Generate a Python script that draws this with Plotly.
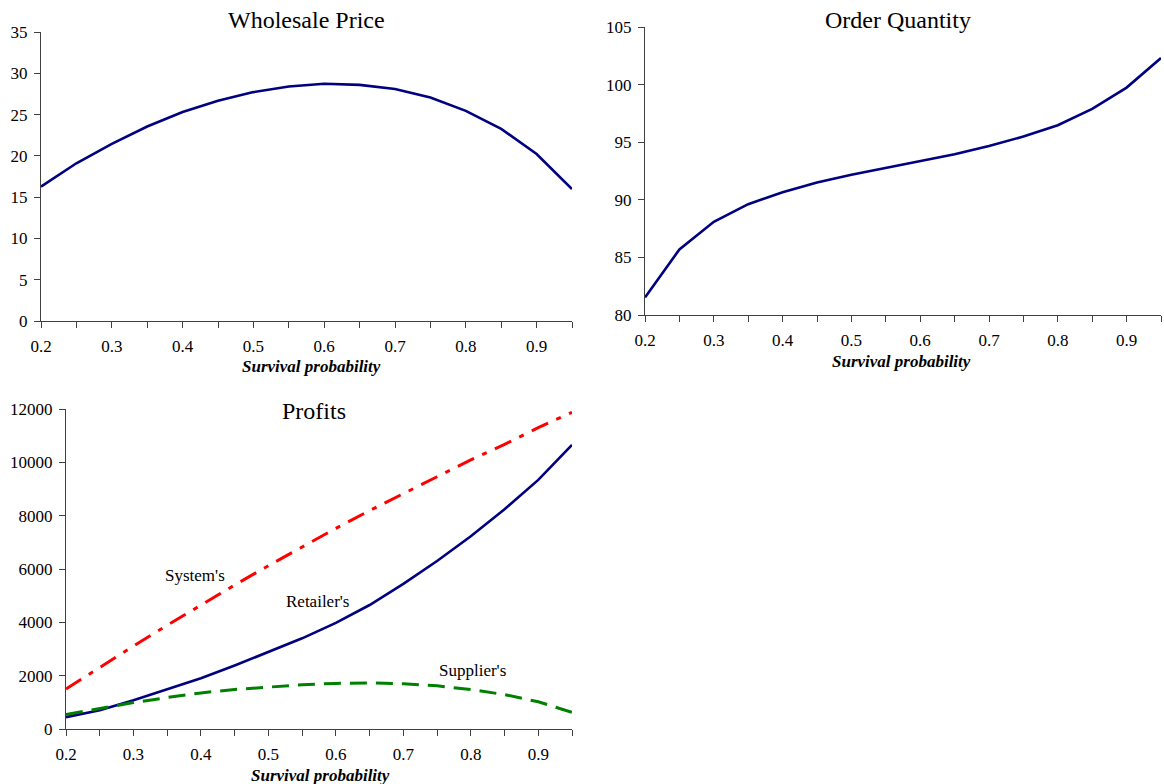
import plotly.graph_objects as go

# ---------------- data ----------------
survival = [0.2, 0.25, 0.3, 0.35, 0.4, 0.45, 0.5, 0.55, 0.6, 0.65, 0.7, 0.75, 0.8, 0.85, 0.9, 0.95]
x_tick_labels = ["0.2", "", "0.3", "", "0.4", "", "0.5", "", "0.6", "", "0.7", "", "0.8", "", "0.9", ""]

wholesale_price = [16.27, 19.1, 21.45, 23.55, 25.3, 26.67, 27.72, 28.4, 28.73, 28.6,
                   28.09, 27.07, 25.45, 23.27, 20.23, 15.99]

order_quantity = [81.53, 85.69, 88.09, 89.62, 90.66, 91.5, 92.17, 92.77, 93.35, 93.96,
                  94.68, 95.49, 96.47, 97.89, 99.74, 102.3]

system_profit = [1500, 2310, 3110, 3890, 4650, 5400, 6125, 6840, 7525, 8190,
                 8840, 9460, 10090, 10675, 11300, 11875]
retailer_profit = [443, 700, 1076, 1480, 1900, 2380, 2880, 3400, 3980, 4650,
                   5440, 6300, 7230, 8240, 9340, 10650]
supplier_profit = [544, 780, 990, 1180, 1354, 1480, 1582, 1660, 1710, 1730,
                   1700, 1620, 1480, 1290, 1020, 625]

# ---------------- styling ----------------
FONT = "Liberation Serif, Times New Roman, serif"
NAVY = "#000080"
RED = "#FF0000"
GREEN = "#008000"
AXCOL = "#404040"
TICK_SIZE = 17

W, H = 1164, 784

fig = go.Figure()

fig.add_trace(go.Scatter(x=survival, y=wholesale_price, mode="lines",
                         line=dict(color=NAVY, width=2.6), xaxis="x", yaxis="y",
                         showlegend=False))
fig.add_trace(go.Scatter(x=survival, y=order_quantity, mode="lines",
                         line=dict(color=NAVY, width=2.6), xaxis="x2", yaxis="y2",
                         showlegend=False))
fig.add_trace(go.Scatter(x=survival, y=system_profit, mode="lines",
                         line=dict(color=RED, width=3, dash="18px,9px,5px,9px"),
                         xaxis="x3", yaxis="y3", showlegend=False))
fig.add_trace(go.Scatter(x=survival, y=retailer_profit, mode="lines",
                         line=dict(color=NAVY, width=2.6), xaxis="x3", yaxis="y3",
                         showlegend=False))
fig.add_trace(go.Scatter(x=survival, y=supplier_profit, mode="lines",
                         line=dict(color=GREEN, width=3, dash="17px,9px"),
                         xaxis="x3", yaxis="y3", showlegend=False))


def xax(domain, anchor):
    return dict(domain=domain, anchor=anchor, range=[0.2, 0.95],
                tickmode="array", tickvals=survival, ticktext=x_tick_labels,
                ticks="outside", ticklen=6, tickcolor=AXCOL, tickwidth=1,
                showline=True, linecolor=AXCOL, linewidth=1, showgrid=False,
                zeroline=False, automargin=False, ticklabelstandoff=4,
                tickfont=dict(family=FONT, size=TICK_SIZE, color="#000"))


def yax(domain, anchor, rng, dtick):
    return dict(domain=domain, anchor=anchor, range=rng, dtick=dtick,
                ticks="outside", ticklen=6, tickcolor=AXCOL, tickwidth=1,
                showline=True, linecolor=AXCOL, linewidth=1, showgrid=False,
                zeroline=False, automargin=False, tickformat="d",
                ticklabelstandoff=3,
                tickfont=dict(family=FONT, size=TICK_SIZE, color="#000"))


def dx(a, b):
    return [a / W, b / W]


def dy(top, bottom):
    return [1 - bottom / H, 1 - top / H]


fig.update_layout(
    width=W, height=H,
    margin=dict(l=0, r=0, t=0, b=0),
    paper_bgcolor="white", plot_bgcolor="white",
    xaxis=xax(dx(41, 572), "y"),
    yaxis=yax(dy(32, 321), "x", [0, 35], 5),
    xaxis2=xax(dx(645, 1161), "y2"),
    yaxis2=yax(dy(27, 315), "x2", [80, 105], 5),
    xaxis3=xax(dx(66, 572), "y3"),
    yaxis3=yax(dy(409, 729), "x3", [0, 12000], 2000),
)

# chart titles
titles = [("Wholesale Price", 306, 20), ("Order Quantity", 898, 20), ("Profits", 314, 411)]
for text, px, py in titles:
    fig.add_annotation(text=text, x=px / W, y=1 - py / H, xref="paper", yref="paper",
                       showarrow=False, xanchor="center", yanchor="middle",
                       font=dict(family=FONT, size=24, color="#000"))

# x-axis titles
axis_titles = [(311, 366), (901, 361), (320, 775)]
for px, py in axis_titles:
    fig.add_annotation(text="<b><i>Survival probability</i></b>", x=px / W, y=1 - py / H,
                       xref="paper", yref="paper", showarrow=False,
                       xanchor="center", yanchor="middle",
                       font=dict(family=FONT, size=17, color="#000"))

# curve labels
labels = [("System's", 0.391, 5740), ("Retailer's", 0.573, 4800), ("Supplier's", 0.803, 2186)]
for text, lx, ly in labels:
    fig.add_annotation(text=text, x=lx, y=ly, xref="x3", yref="y3", showarrow=False,
                       xanchor="center", yanchor="middle",
                       font=dict(family=FONT, size=17, color="#000"))

fig.write_html("out.html",
               config={"displayModeBar": False, "staticPlot": True},
               post_script="document.body.style.margin='0px';document.body.style.overflow='hidden';")
